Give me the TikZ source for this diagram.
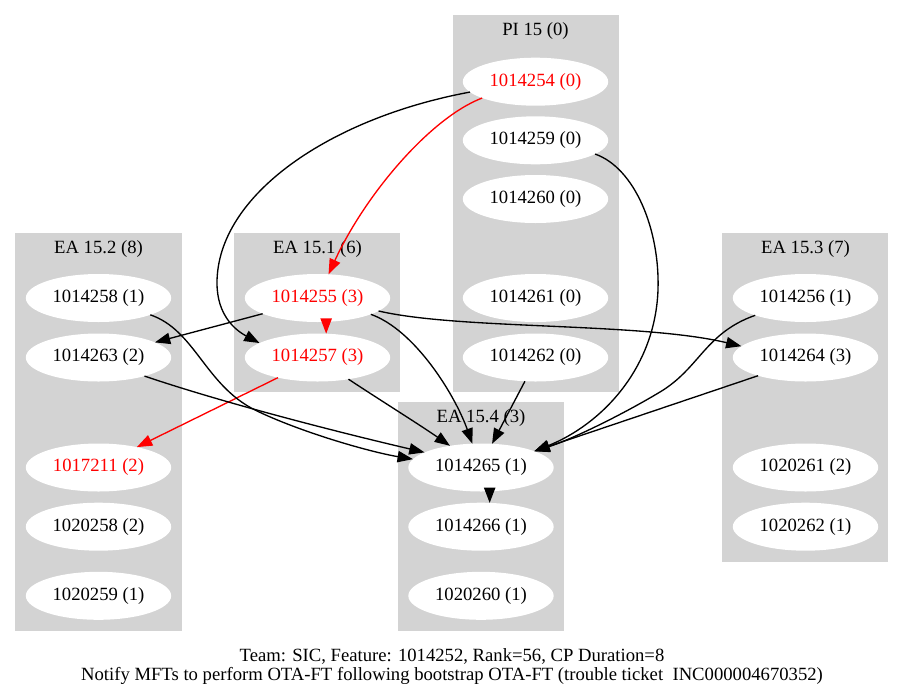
\documentclass[tikz,border=0pt]{standalone}
\usepackage{fontspec}
\setmainfont{Liberation Serif}
\usetikzlibrary{arrows.meta,shapes.geometric}
\definecolor{clgray}{RGB}{211,211,211}
\begin{document}
\begin{tikzpicture}[x=0.75pt,y=-0.75pt,
  every node/.style={font=\fontsize{14}{16}\selectfont},
  task/.style={ellipse, fill=white, minimum width=109pt, minimum height=36pt, inner sep=0pt, outer sep=0pt},
  hot/.style={task, text=red},
  cluster/.style={fill=clgray},
  clabel/.style={inner sep=0pt},
  edge/.style={line width=1pt, -{Triangle[length=11.5pt,width=8.5pt]}},
  redge/.style={edge, color=red}]
\fill[white] (0,0) rectangle (904,697);
\useasboundingbox (0,0) rectangle (904,697);
% clusters
\fill[cluster] (453,15) rectangle (619,392);
\fill[cluster] (15,233) rectangle (182,631);
\fill[cluster] (234,233) rectangle (400,392);
\fill[cluster] (722,233) rectangle (888,561.7);
\fill[cluster] (398,402) rectangle (564,631);
\node[clabel] (lpi) at (535.5,31) {PI 15 (0)};
\node[clabel] (l152) at (98.5,249) {EA 15.2 (8)};
\node[clabel] (l151) at (317.5,249) {EA 15.1 (6)};
\node[clabel] (l153) at (805.5,249) {EA 15.3 (7)};
\node[clabel] (l154) at (481,418) {EA 15.4 (3)};
% nodes
\node[hot]  (n254) at (535.5,81.7) {1014254 (0)};
\node[task] (n259) at (535.5,140.3) {1014259 (0)};
\node[task] (n260) at (535.5,199) {1014260 (0)};
\node[task] (n261) at (535.5,298) {1014261 (0)};
\node[task] (n262) at (535.5,357.5) {1014262 (0)};
\node[task] (n258) at (98.5,298) {1014258 (1)};
\node[task] (n263) at (98.5,357.5) {1014263 (2)};
\node[hot]  (n7211) at (98.5,467.5) {1017211 (2)};
\node[task] (n0258) at (98.5,526.7) {1020258 (2)};
\node[task] (n0259) at (98.5,595.8) {1020259 (1)};
\node[hot]  (n255) at (317.5,298) {1014255 (3)};
\node[hot]  (n257) at (317.5,357.5) {1014257 (3)};
\node[task] (n256) at (805.5,298) {1014256 (1)};
\node[task] (n264) at (805.5,357.5) {1014264 (3)};
\node[task] (n0261) at (805.5,467.5) {1020261 (2)};
\node[task] (n0262) at (805.5,526.7) {1020262 (1)};
\node[task] (n265) at (481,467.5) {1014265 (1)};
\node[task] (n266) at (481,526.7) {1014266 (1)};
\node[task] (n0260) at (481,595.8) {1020260 (1)};
% caption
\node[align=center, inner sep=0pt, font=\fontsize{14}{14.25}\selectfont] (cap) at (452,666.5)
  {Team: SIC, Feature: 1014252, Rank=56, CP Duration=8\\Notify MFTs to perform OTA-FT following bootstrap OTA-FT (trouble ticket \ INC000004670352)};
% edges
\draw[edge] (n254.189.8) .. controls (330,118) and (217,195) .. (217,283) .. controls (217,315) and (235,330) .. (n257.166);
\draw[redge] (n254.197.2) .. controls (430,118) and (365,195) .. (n255.65.5);
\draw[edge] (n259.-13) .. controls (635,168) and (660,230) .. (658,290) .. controls (655,370) and (600,425) .. (n265.17);
\draw[redge] (n255.-70) -- (n257.70);
\draw[edge] (n255.196) -- (n263.15);
\draw[edge] (n255.-12.9) .. controls (460,330) and (640,322) .. (n264.170.8);
\draw[edge] (n255.-17.6) .. controls (415,330) and (455,395) .. (n265.110);
\draw[redge] (n257.207) -- (n7211.28);
\draw[edge] (n257.-35) .. controls (380,400) and (420,425) .. (n265.145.7);
\draw[edge] (n258.-18.3) .. controls (195,330) and (205,385) .. (255,410) .. controls (300,432) and (370,452) .. (n265.173.7);
\draw[edge] (n263.-22.6) .. controls (230,405) and (350,435) .. (n265.165);
\draw[edge] (n262.246) -- (n265.65.4);
\draw[edge] (n256.199.6) .. controls (705,333) and (700,368) .. (660,392) .. controls (620,416) and (570,440) .. (n265.17);
\draw[edge] (n264.201.7) -- (n265.17);
\draw[edge] (n265.-70) -- (n266.70);
\end{tikzpicture}
\end{document}
